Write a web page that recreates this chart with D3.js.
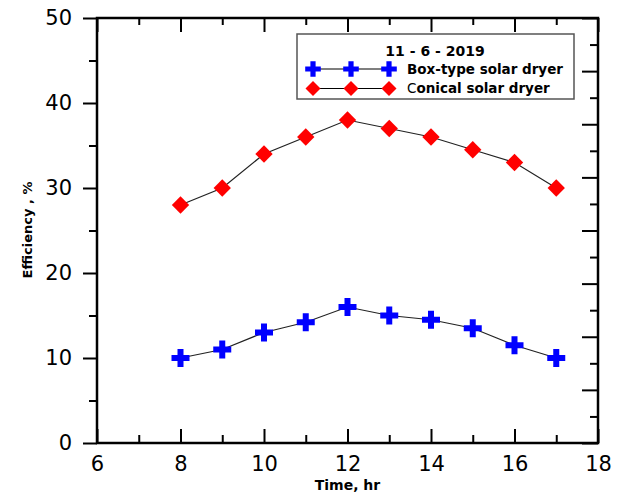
<!DOCTYPE html>
<html>
<head>
<meta charset="utf-8">
<script src="https://cdn.jsdelivr.net/npm/d3@7"></script>
<style>
  body { margin: 0; background: #fff; }
  svg { display: block; }
  text { font-family: "DejaVu Sans", sans-serif; }
</style>
</head>
<body>
<svg></svg>
<script>
// values
const hours = [8, 9, 10, 11, 12, 13, 14, 15, 16, 17]
const boxType = [10, 11, 13, 14.2, 16, 15, 14.5, 13.5, 11.5, 10]
const conical = [28, 30, 34, 36, 38, 37, 36, 34.5, 33, 30]
const xTicks = [6, 8, 10, 12, 14, 16, 18]
const xMinor = [7, 9, 11, 13, 15, 17]
const yTicks = [0, 10, 20, 30, 40, 50]
const yMinor = [5, 15, 25, 35, 45]

const width = 627
const height = 494
const plotL = 97, plotR = 598, plotT = 18, plotB = 443

const svg = d3.select('svg')
    .attr('width', width)
    .attr('height', height)

const x = d3.scaleLinear().domain([6, 18]).range([plotL, plotR])
const y = d3.scaleLinear().domain([0, 50]).range([plotB, plotT])
// right side of the frame carries its own (unlabelled) scale
const y2 = d3.scaleLinear().domain([0, 8]).range([plotB, plotT])

function styleAxis(g, w) {
    g.select('.domain').remove()
    g.selectAll('.tick line').attr('stroke', '#000').attr('stroke-width', w)
}

// left axis, ticks outward
svg.append('g')
    .attr('transform', `translate(${plotL},0)`)
    .call(d3.axisLeft(y).tickValues(yTicks).tickSize(14).tickPadding(11))
    .call(g => styleAxis(g, 2))
    .selectAll('text')
    .attr('font-size', 21)
    .attr('font-family', '"DejaVu Sans", sans-serif')
    .attr('fill', '#000')
svg.append('g')
    .attr('transform', `translate(${plotL},0)`)
    .call(d3.axisLeft(y).tickValues(yMinor).tickSize(8).tickFormat(''))
    .call(g => styleAxis(g, 2))

// bottom axis, ticks inward
svg.append('g')
    .attr('transform', `translate(0,${plotB})`)
    .call(d3.axisBottom(x).tickValues(xTicks).tickSize(-14).tickPadding(13))
    .call(g => styleAxis(g, 2))
    .selectAll('text')
    .attr('font-size', 21)
    .attr('font-family', '"DejaVu Sans", sans-serif')
    .attr('fill', '#000')
svg.append('g')
    .attr('transform', `translate(0,${plotB})`)
    .call(d3.axisBottom(x).tickValues(xMinor).tickSize(-8).tickFormat(''))
    .call(g => styleAxis(g, 2))

// top axis, inward, no labels
svg.append('g')
    .attr('transform', `translate(0,${plotT})`)
    .call(d3.axisTop(x).tickValues(xTicks).tickSize(-14).tickFormat(''))
    .call(g => styleAxis(g, 2))
svg.append('g')
    .attr('transform', `translate(0,${plotT})`)
    .call(d3.axisTop(x).tickValues(xMinor).tickSize(-7).tickFormat(''))
    .call(g => styleAxis(g, 2))

// right axis, inward, no labels
svg.append('g')
    .attr('transform', `translate(${plotR},0)`)
    .call(d3.axisRight(y2).ticks(8).tickSize(-16).tickFormat(''))
    .call(g => styleAxis(g, 2))
svg.append('g')
    .attr('transform', `translate(${plotR},0)`)
    .call(d3.axisRight(y2).tickValues(d3.range(0.5, 8, 1)).tickSize(-8).tickFormat(''))
    .call(g => styleAxis(g, 2))

// frame
svg.append('rect')
    .attr('x', plotL)
    .attr('y', plotT)
    .attr('width', plotR - plotL)
    .attr('height', plotB - plotT)
    .attr('fill', 'none')
    .attr('stroke', '#000')
    .attr('stroke-width', 2.5)

// axis titles
svg.append('text')
    .attr('x', x(12))
    .attr('y', 490)
    .attr('text-anchor', 'middle')
    .attr('font-size', 14)
    .attr('font-weight', 'bold')
    .text('Time, hr')

svg.append('text')
    .attr('transform', 'translate(32,230) rotate(-90)')
    .attr('text-anchor', 'middle')
    .attr('font-size', 13)
    .attr('font-weight', 'bold')
    .text('Efficiency , %')

// series
const series = [
    { name: 'Box-type solar dryer', values: boxType, color: '#0000ff', shape: d3.symbolCross, size: 180, rot: 0 },
    { name: 'Conical solar dryer', values: conical, color: '#ff0000', shape: d3.symbolSquare, size: 150, rot: 45 }
]

const line = d3.line()
    .x(d => x(d[0]))
    .y(d => y(d[1]))

series.forEach(s => {
    const pts = hours.map((h, i) => [h, s.values[i]])
    svg.append('path')
        .datum(pts)
        .attr('d', line)
        .attr('fill', 'none')
        .attr('stroke', '#222')
        .attr('stroke-width', 1.2)
    svg.append('g')
        .selectAll('path')
        .data(pts)
        .enter()
        .append('path')
        .attr('transform', d => `translate(${x(d[0])},${y(d[1])}) rotate(${s.rot})`)
        .attr('d', d3.symbol().type(s.shape).size(s.size))
        .attr('fill', s.color)
})

// legend
const legend = svg.append('g')
legend.append('rect')
    .attr('x', 297)
    .attr('y', 34)
    .attr('width', 277)
    .attr('height', 65)
    .attr('fill', '#fff')
    .attr('stroke', '#555')
    .attr('stroke-width', 1.5)

legend.append('text')
    .attr('x', 435)
    .attr('y', 56)
    .attr('text-anchor', 'middle')
    .attr('font-size', 14)
    .attr('font-weight', 'bold')
    .text('11 - 6 - 2019')

const legendX = [313, 351, 389]
series.forEach((s, i) => {
    const ly = 69 + i * 19.5
    legend.append('line')
        .attr('x1', legendX[0]).attr('x2', legendX[2])
        .attr('y1', ly).attr('y2', ly)
        .attr('stroke', '#000')
        .attr('stroke-width', 1.2)
    legend.selectAll(null)
        .data(legendX)
        .enter()
        .append('path')
        .attr('transform', d => `translate(${d},${ly}) rotate(${s.rot})`)
        .attr('d', d3.symbol().type(s.shape).size(s.size * 0.75))
        .attr('fill', s.color)
    const t = legend.append('text')
        .attr('x', 407)
        .attr('y', ly + 4.5)
        .attr('font-size', 13.5)
        .attr('font-weight', 'bold')
    if (i === 1) {
        // the C comes out lighter in the original
        t.append('tspan').attr('font-weight', 'normal').text(s.name[0])
        t.append('tspan').text(s.name.slice(1))
    } else {
        t.text(s.name)
    }
})
</script>
</body>
</html>
